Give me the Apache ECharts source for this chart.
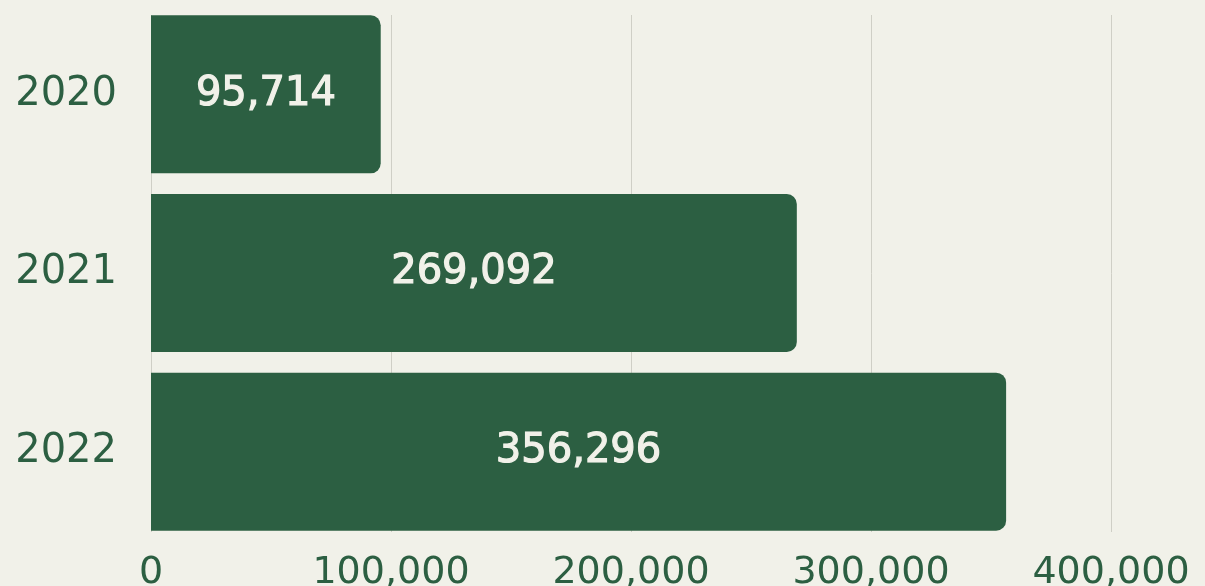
<!DOCTYPE html>
<html>
<head>
<meta charset="utf-8">
<script src="https://cdn.jsdelivr.net/npm/echarts@6/dist/echarts.min.js"></script>
<style>
html,body{margin:0;padding:0;background:#f1f1e9;}
#charts{width:1205px;height:586px;}
</style>
</head>
<body>
<div id="charts"></div>
<script>
var years = ['2020', '2021', '2022'];
var values = [95714, 269092, 356296];
var xTicks = [0, 100000, 200000, 300000, 400000];

var green = '#2c5f42';
var fontName = 'DejaVu Sans';

function fmt(v){
	return Number(v).toLocaleString('en-US');
}

var charts = echarts.init(document.getElementById('charts'));
var option = {
	backgroundColor: '#f1f1e9',
	animation: false,
	// grid 0: gridlines + x labels, grid 1: bars (a bit taller so bars touch the gridline ends)
	grid: [{
		left: 151, right: 94, top: 15, bottom: 54,
		outerBoundsMode: 'none', containLabel: false
	},{
		left: 151, right: 94, top: 5, bottom: 45,
		outerBoundsMode: 'none', containLabel: false
	}],
	xAxis: [{
		gridIndex: 0,
		type: 'value',
		min: xTicks[0],
		max: xTicks[xTicks.length - 1],
		interval: 100000,
		axisLine: {show: false},
		axisTick: {show: false},
		splitLine: {lineStyle: {color: '#cfcfc6', width: 1}},
		axisLabel: {
			color: green,
			fontFamily: fontName,
			fontSize: 38,
			margin: 22,
			formatter: function(v){ return fmt(v); }
		}
	},{
		gridIndex: 1,
		type: 'value',
		min: xTicks[0],
		max: xTicks[xTicks.length - 1],
		show: false
	}],
	yAxis: [{
		gridIndex: 0,
		type: 'value',
		show: false
	},{
		gridIndex: 1,
		type: 'category',
		data: years,
		inverse: true,
		axisLine: {show: false},
		axisTick: {show: false},
		splitLine: {show: false},
		axisLabel: {
			color: green,
			fontFamily: fontName,
			fontSize: 40,
			margin: 34
		}
	}],
	series: [{
		type: 'bar',
		xAxisIndex: 1,
		yAxisIndex: 1,
		data: values,
		barCategoryGap: '11.6%',
		itemStyle: {
			color: green,
			borderRadius: [0, 10, 10, 0]
		},
		label: {
			show: true,
			position: 'inside',
			color: '#f1f1e9',
			fontFamily: fontName,
			fontSize: 40,
			textBorderColor: '#f1f1e9',
			textBorderWidth: 1.2,
			formatter: function(p){ return fmt(p.value); }
		}
	}]
};
charts.setOption(option);
</script>
</body>
</html>
